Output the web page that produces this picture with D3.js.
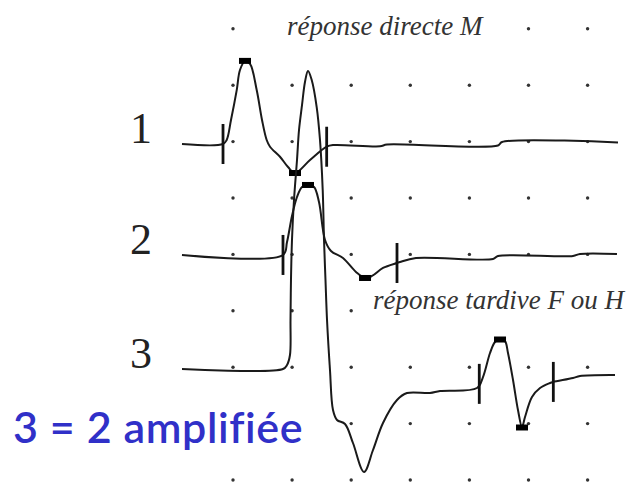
<!DOCTYPE html>
<html>
<head>
<meta charset="utf-8">
<script src="https://cdn.jsdelivr.net/npm/d3@7"></script>
<style>
  html, body { margin: 0; padding: 0; background: #fff; }
  svg { display: block; }
</style>
</head>
<body>
<svg id="chart" width="639" height="484"></svg>
<script>
// EMG recordings: time and amplitude in grid divisions.
// Each trace: [time, amplitude relative to its own baseline].
const gridCols = [0, 1, 2, 3, 4, 5, 6];
const gridRows = [0, 1, 2, 3, 4, 5, 6, 7, 8];

const traceNames = ["1", "2", "3"];
const traceBaselines = [5.957, 3.99, 1.968];

const trace1 = [
  [-0.863, 0], [-0.169, 0], [-0.107, 0.071], [-0.034, 0.426], [0.063, 0.957],
  [0.118, 1.312], [0.203, 1.47], [0.288, 1.42], [0.401, 0.957], [0.491, 0.426],
  [0.570, 0.071], [0.626, -0.048], [0.795, -0.225], [0.931, -0.408], [1.049, -0.514],
  [1.303, -0.284], [1.585, -0.048], [1.692, -0.018], [2.487, -0.04], [2.606, -0.009],
  [4.484, -0.027], [4.552, 0.035], [6.514, 0.027]
];
const trace2 = [
  [-0.863, 0], [0.846, 0], [0.914, 0.230], [0.998, 0.691], [1.083, 1.028],
  [1.168, 1.206], [1.269, 1.241], [1.371, 1.206], [1.455, 0.940], [1.557, 0.266],
  [1.658, 0.071], [1.861, -0.053], [2.081, -0.301], [2.234, -0.408], [2.352, -0.372],
  [2.538, -0.230], [2.775, -0.142], [2.826, -0.124], [3.096, -0.053], [4.399, -0.071],
  [4.484, -0.018], [5.753, -0.018], [5.871, 0.018], [6.497, 0.018]
];
const trace3 = [
  [-0.863, 0], [0.846, 0], [0.914, 0.071], [0.964, 0.248], [0.973, 0.869],
  [0.981, 1.578], [0.998, 2.287], [1.032, 2.996], [1.083, 3.706], [1.117, 4.238],
  [1.168, 4.681], [1.218, 5.089], [1.269, 5.284], [1.332, 5.124], [1.416, 4.645],
  [1.472, 4.060], [1.518, 3.174], [1.540, 2.287], [1.565, 1.578], [1.591, 0.869],
  [1.641, -0.018], [1.692, -0.727], [1.760, -0.904], [1.895, -0.975], [2.030, -1.312],
  [2.217, -1.826], [2.369, -1.436], [2.538, -0.957], [2.775, -0.550], [2.944, -0.426],
  [3.333, -0.426], [3.503, -0.390], [4.129, -0.337], [4.230, -0.142], [4.349, 0.284],
  [4.433, 0.479], [4.518, 0.532], [4.602, 0.496], [4.653, 0.284], [4.738, -0.195],
  [4.822, -0.727], [4.890, -1.028], [4.941, -0.851], [5.059, -0.496], [5.195, -0.337],
  [5.364, -0.248], [5.415, -0.230], [5.753, -0.160], [5.871, -0.124], [6.464, -0.106]
];
const traces = [trace1, trace2, trace3];

// Onset / end-of-response ticks (time) per trace
const traceTicks = [[-0.169, 1.585], [0.846, 2.775], [4.167, 5.420]];
// Latency markers [time, amplitude] per trace
const traceMarkers = [
  [[0.203, 1.474], [1.049, -0.514]],
  [[1.269, 1.241], [2.234, -0.408]],
  [[4.518, 0.523], [4.890, -1.037]]
];

const titleM = "réponse directe M";
const titleF = "réponse tardive F ou H";
const noteText = "3 = 2 amplifiée";

const svg = d3.select("#chart");
const x = d3.scaleLinear().domain([0, 6]).range([233, 587.6]);
const y = d3.scaleLinear().domain([0, 8]).range([480, 28.8]);

// dotted grid
const dots = svg.append("g");
gridRows.forEach(r => gridCols.forEach(c => {
  dots.append("circle").attr("cx", x(c)).attr("cy", y(r)).attr("r", 1.7).attr("fill", "#333");
}));

// text backgrounds hide the grid under the captions
const bg = svg.append("g").attr("fill", "#fff");
bg.append("rect").attr("x", 280).attr("y", 8).attr("width", 210).attr("height", 38);
bg.append("rect").attr("x", 366).attr("y", 288).attr("width", 273).attr("height", 32);
bg.append("rect").attr("x", 6).attr("y", 398).attr("width", 306).attr("height", 60);

const line = d3.line().x(d => x(d[0])).curve(d3.curveCatmullRom.alpha(0.5));

function ampAt(pts, t) {
  const i = d3.bisector(d => d[0]).left(pts, t);
  if (i <= 0) return pts[0][1];
  if (i >= pts.length) return pts[pts.length - 1][1];
  const a = pts[i - 1], b = pts[i];
  return a[1] + (b[1] - a[1]) * (t - a[0]) / (b[0] - a[0]);
}

traces.forEach((pts, k) => {
  const base = traceBaselines[k];
  const g = svg.append("g");
  g.append("path")
    .attr("d", line.y(d => y(base + d[1]))(pts))
    .attr("fill", "none").attr("stroke", "#1a1a1a").attr("stroke-width", 2)
    .attr("stroke-linejoin", "round");
  traceTicks[k].forEach(t => {
    const cy = y(base + ampAt(pts, t));
    g.append("line").attr("x1", x(t)).attr("x2", x(t))
      .attr("y1", cy - 20).attr("y2", cy + 20)
      .attr("stroke", "#111").attr("stroke-width", 2.8);
  });
  traceMarkers[k].forEach(m => {
    g.append("rect").attr("x", x(m[0]) - 6).attr("y", y(base + m[1]) - 3)
      .attr("width", 12).attr("height", 6).attr("fill", "#000");
  });
  svg.append("text").attr("x", 152).attr("y", y(base) - 1)
    .attr("text-anchor", "end")
    .attr("font-family", "'Liberation Serif', 'Times New Roman', serif")
    .attr("font-size", 44).attr("fill", "#222").text(traceNames[k]);
});

svg.append("text").attr("x", 287).attr("y", 35)
  .attr("font-family", "'Times New Roman', 'Liberation Serif', serif").attr("font-style", "italic")
  .attr("font-size", 27).attr("fill", "#333").text(titleM);
svg.append("text").attr("x", 373).attr("y", 309)
  .attr("font-family", "'Times New Roman', 'Liberation Serif', serif").attr("font-style", "italic")
  .attr("font-size", 27).attr("fill", "#333").text(titleF);
svg.append("text").attr("x", 13).attr("y", 443)
  .attr("font-family", "'Comic Sans MS', Lato, sans-serif")
  .attr("font-size", 43).attr("font-weight", 600).attr("letter-spacing", 0.6)
  .attr("fill", "#3030c8").text(noteText);
</script>
</body>
</html>
